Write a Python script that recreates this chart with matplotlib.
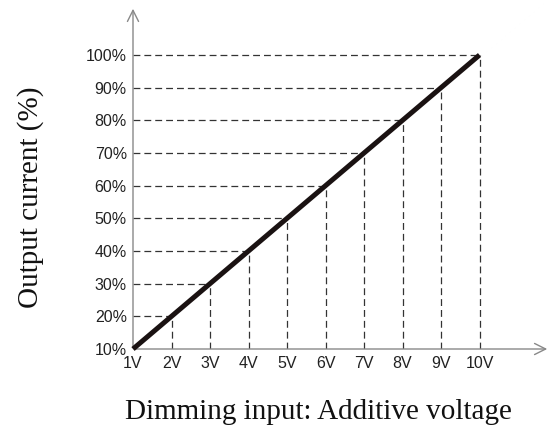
import matplotlib
matplotlib.use('Agg')
import matplotlib.pyplot as plt

# dimming curve: input voltage vs output current
volts = [1, 2, 3, 4, 5, 6, 7, 8, 9, 10]
current = [10, 20, 30, 40, 50, 60, 70, 80, 90, 100]
x_labels = ['1V', '2V', '3V', '4V', '5V', '6V', '7V', '8V', '9V', '10V']
y_labels = ['10%', '20%', '30%', '40%', '50%', '60%', '70%', '80%', '90%', '100%']

W, H = 558, 432
fig = plt.figure(figsize=(W / 100, H / 100), dpi=100)
ax = fig.add_axes([133 / W, 83 / H, 417 / W, 343 / H])
ax.set_xlim(1, 11.83)
ax.set_ylim(10, 115)

for s in ax.spines.values():
    s.set_visible(False)

# guide lines
for v, c in zip(volts[1:], current[1:]):
    ax.plot([v, v], [10, c], color='#333333', lw=0.9, ls=(0, (5.5, 3.2)))
    ax.plot([1, v], [c, c], color='#333333', lw=0.9, ls=(0, (5.5, 3.2)))

ax.plot(volts, current, color='#1a1212', lw=3.6, solid_capstyle='butt', zorder=5,
        clip_on=False)

# axes with open arrow heads
arrow = dict(arrowstyle='->', color='#888888', lw=1.0, mutation_scale=20)
ax.annotate('', xy=(1, 0), xytext=(0, 0), xycoords='axes fraction',
            textcoords='axes fraction', arrowprops=arrow)
ax.annotate('', xy=(0, 1), xytext=(0, 0), xycoords='axes fraction',
            textcoords='axes fraction', arrowprops=arrow)

tick_font = dict(family=['Liberation Sans', 'DejaVu Sans'], size=11.5, color='#222222')
ax.set_xticks(volts)
ax.set_xticklabels(x_labels, **tick_font)
ax.set_yticks(current)
ax.set_yticklabels(y_labels, **tick_font)
ax.tick_params(axis='x', length=0, pad=5)
ax.tick_params(axis='y', length=0, pad=4.5)

serif = dict(family=['Liberation Serif', 'DejaVu Serif'], size=21, color='#111111')
fig.text(318 / W, 1 - 412 / H, 'Dimming input: Additive voltage', ha='center',
         va='center', **serif)
fig.text(31 / W, 1 - 197 / H, 'Output current (%)', rotation=90, ha='center',
         va='center', **serif)

fig.savefig('out.png', dpi=100)
